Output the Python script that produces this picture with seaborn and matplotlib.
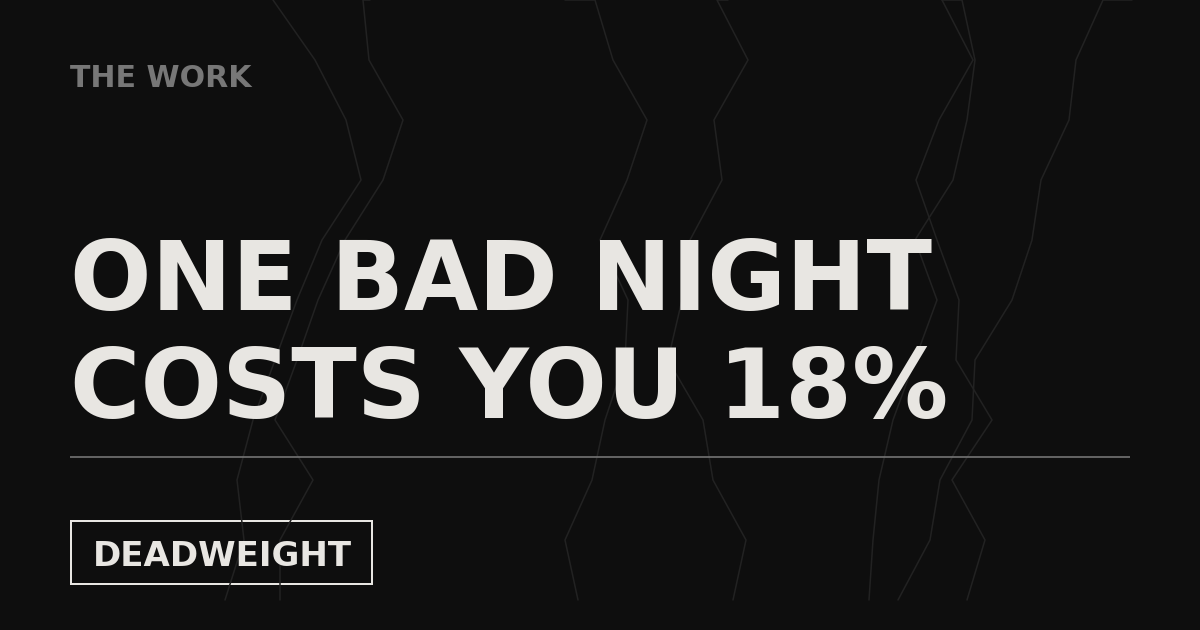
import matplotlib
matplotlib.use("Agg")
import matplotlib.pyplot as plt
from matplotlib.patches import Rectangle
import seaborn as sns
import pandas as pd

# ---- data -------------------------------------------------------------
# vertical positions (px from top) shared by every background trace;
# the first entry is the short lead-in at the top edge
trace_y = [0, 0, 60, 120, 180, 240, 300, 360, 420, 480, 540, 600]

trace_a = [273, 273, 315, 346, 361, 322, 297, 275, 253, 237, 244, 225]
trace_b = [370, 363, 369, 403, 383, 345, 318, 297, 275, 313, 280, 280]
trace_c = [565, 595, 613, 647, 627, 600, 628, 625, 605, 592, 565, 578]
trace_d = [728, 717, 748, 714, 722, 690, 682, 668, 703, 713, 746, 733]
trace_e = [942, 942, 973, 939, 916, 937, 959, 956, 992, 952, 985, 967]
trace_f = [942, 962, 975, 967, 953, 915, 937, 915, 893, 879, 873, 869]
trace_g = [1132, 1103, 1076, 1069, 1041, 1032, 1012, 975, 972, 940, 930, 898]

eyebrow = "THE WORK"
headline = ["ONE BAD NIGHT", "COSTS YOU 18%"]
tag = "DEADWEIGHT"

# ---- styling ----------------------------------------------------------
BG = "#0e0e0e"
TRACE = "#222222"
INK = "#e8e6e2"
MUTED = "#777777"

sns.set_theme(style="white")
plt.rcParams["font.family"] = ["DejaVu Sans"]

W, H, DPI = 1200, 630, 100
fig = plt.figure(figsize=(W / DPI, H / DPI), dpi=DPI, facecolor=BG)
ax = fig.add_axes([0, 0, 1, 1])
ax.set_facecolor(BG)

traces = {"a": trace_a, "b": trace_b, "c": trace_c, "d": trace_d,
          "e": trace_e, "f": trace_f, "g": trace_g}
rows = []
for name, xs in traces.items():
    for i, (xv, yv) in enumerate(zip(xs, trace_y)):
        rows.append({"trace": name, "order": i, "x": xv, "y": yv})
df = pd.DataFrame(rows)

sns.lineplot(data=df, x="x", y="y", units="trace", estimator=None,
             sort=False, orient="y", color=TRACE, linewidth=1.1,
             legend=False, ax=ax)
ax.set_xlim(0, W)
ax.set_ylim(H, 0)
ax.axis("off")

px = 72 / DPI  # px -> pt

ax.text(70, 87, eyebrow, fontsize=30 * px, fontweight="bold",
        color=MUTED, ha="left", va="baseline")

ax.text(70, 310, headline[0], fontsize=96 * px, fontweight="bold",
        color=INK, ha="left", va="baseline")
ax.text(70, 418, headline[1], fontsize=96 * px, fontweight="bold",
        color=INK, ha="left", va="baseline")

ax.plot([70, 1130], [457, 457], color=MUTED, linewidth=1.6 * px,
        solid_capstyle="butt")

ax.add_patch(Rectangle((71, 521), 301, 63, fill=False, edgecolor=INK,
                       linewidth=2 * px))
ax.text(93, 566, tag, fontsize=34 * px, fontweight="bold",
        color=INK, ha="left", va="baseline")

fig.savefig("out.png", dpi=DPI, facecolor=BG)
